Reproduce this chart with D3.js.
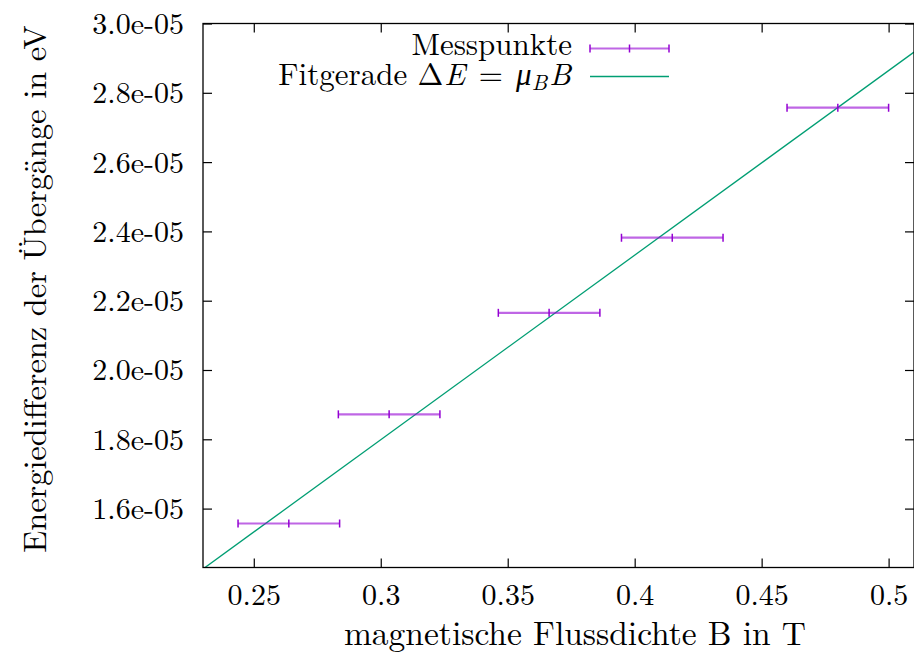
<!DOCTYPE html>
<html>
<head>
<meta charset="utf-8">
<script src="https://cdn.jsdelivr.net/npm/d3@7"></script>
<style>
  body { margin: 0; background: #fff; }
</style>
</head>
<body>
<svg id="chart" width="914" height="658"></svg>
<script>
const fieldB = [0.2638, 0.3033, 0.3663, 0.4148, 0.4800];
const fieldErr = [0.02, 0.02, 0.02, 0.02, 0.02];
const energy = [1.557e-5, 1.872e-5, 2.165e-5, 2.382e-5, 2.757e-5];
const fitParams = [5.327e-5, 2.006e-6]; // slope, intercept
const xTicks = [0.25, 0.3, 0.35, 0.4, 0.45, 0.5];
const yTicks = [1.6e-5, 1.8e-5, 2.0e-5, 2.2e-5, 2.4e-5, 2.6e-5, 2.8e-5, 3.0e-5];

const plotLeft = 203, plotRight = 914, plotTop = 23.5, plotBottom = 567.5;
const purple = "#9400d3", green = "#009e73";
const lm = "'Latin Modern Roman', 'Liberation Serif', serif";

const x = d3.scaleLinear([0.23, 0.51], [plotLeft, plotRight]);
const y = d3.scaleLinear([1.43e-5, 3.0e-5], [plotBottom, plotTop]);

const svg = d3.select("#chart");

svg.append("clipPath").attr("id", "plotclip")
   .append("rect")
   .attr("x", plotLeft).attr("y", plotTop)
   .attr("width", plotRight - plotLeft).attr("height", plotBottom - plotTop);

// axes (gnuplot style: ticks inward, mirrored)
const tickLen = 9;
const xAxis = d3.axisBottom(x).tickValues(xTicks).tickSize(-tickLen)
                .tickFormat(d => d3.format("")(d));
const xAxisTop = d3.axisTop(x).tickValues(xTicks).tickSize(-tickLen).tickFormat("");
const yAxis = d3.axisLeft(y).tickValues(yTicks).tickSize(-tickLen).tickPadding(19)
                .tickFormat(d => d.toExponential(1).replace("e-5", "e-05"));
const yAxisRight = d3.axisRight(y).tickValues(yTicks).tickSize(-tickLen).tickFormat("");

function styleAxis(g) {
  g.select(".domain").remove();
  g.selectAll(".tick line").attr("stroke", "#000").attr("stroke-width", 1.2);
  g.selectAll(".tick text").attr("fill", "#000").attr("font-size", 30)
   .style("font-family", lm);
}

svg.append("g").attr("transform", `translate(0,${plotBottom})`).call(xAxis).call(styleAxis)
   .selectAll(".tick text").attr("dy", "0.71em").attr("y", 16);
svg.append("g").attr("transform", `translate(0,${plotTop})`).call(xAxisTop).call(styleAxis);
svg.append("g").attr("transform", `translate(${plotLeft},0)`).call(yAxis).call(styleAxis)
   .selectAll(".tick text").attr("dy", "0.33em");
svg.append("g").attr("transform", `translate(${plotRight},0)`).call(yAxisRight).call(styleAxis);

// fit line
const fitX = x.domain();
svg.append("line")
   .attr("clip-path", "url(#plotclip)")
   .attr("x1", x(fitX[0])).attr("y1", y(fitParams[0] * fitX[0] + fitParams[1]))
   .attr("x2", x(fitX[1])).attr("y2", y(fitParams[0] * fitX[1] + fitParams[1]))
   .attr("stroke", green).attr("stroke-width", 1.3);

// error bars
const capH = 4;
const pts = svg.append("g").attr("clip-path", "url(#plotclip)")
  .selectAll("g").data(d3.range(fieldB.length)).join("g")
  .attr("stroke", purple).attr("stroke-width", 1.5);
pts.append("line")
   .attr("x1", i => x(fieldB[i] - fieldErr[i])).attr("x2", i => x(fieldB[i] + fieldErr[i]))
   .attr("y1", i => y(energy[i])).attr("y2", i => y(energy[i]))
   .attr("stroke-opacity", 0.6).attr("stroke-width", 2.2);
[i => fieldB[i] - fieldErr[i], i => fieldB[i], i => fieldB[i] + fieldErr[i]].forEach(f => {
  pts.append("line")
     .attr("x1", i => x(f(i))).attr("x2", i => x(f(i)))
     .attr("y1", i => y(energy[i]) - capH).attr("y2", i => y(energy[i]) + capH);
});

// border
svg.append("rect")
   .attr("x", plotLeft).attr("y", plotTop)
   .attr("width", plotRight - plotLeft).attr("height", plotBottom - plotTop)
   .attr("fill", "none").attr("stroke", "#000").attr("stroke-width", 1.3);

// legend
const leg = svg.append("g").attr("font-size", 31).attr("fill", "#000");
leg.append("text").attr("x", 572).attr("y", 55).attr("text-anchor", "end")
   .style("font-family", lm).text("Messpunkte");
const lt = leg.append("text").attr("x", 571).attr("y", 85).attr("text-anchor", "end")
   .style("font-family", lm);
lt.append("tspan").text("Fitgerade Δ");
lt.append("tspan").attr("font-style", "italic").attr("dx", 1).text("E");
lt.append("tspan").attr("dx", 3).text(" = ");
lt.append("tspan").attr("font-style", "italic").attr("dx", 3).text("μ");
lt.append("tspan").attr("font-style", "italic").attr("font-size", 22).attr("dy", 5).text("B");
lt.append("tspan").attr("font-style", "italic").attr("dx", 2).attr("dy", -5).text("B");

const lx1 = 590, lx2 = 669, ly1 = 48.5, ly2 = 76.5;
const legEb = svg.append("g").attr("stroke", purple).attr("stroke-width", 1.5);
legEb.append("line").attr("x1", lx1).attr("x2", lx2).attr("y1", ly1).attr("y2", ly1)
     .attr("stroke-opacity", 0.6).attr("stroke-width", 2.2);
[lx1, (lx1 + lx2) / 2, lx2].forEach(px => {
  legEb.append("line").attr("x1", px).attr("x2", px).attr("y1", ly1 - capH).attr("y2", ly1 + capH);
});
svg.append("line").attr("x1", lx1).attr("x2", lx2).attr("y1", ly2).attr("y2", ly2)
   .attr("stroke", green).attr("stroke-width", 1.3);

// axis labels
svg.append("text")
   .attr("x", 575).attr("y", 645).attr("text-anchor", "middle")
   .attr("font-size", 33.5).style("font-family", lm)
   .text("magnetische Flussdichte B in T");
svg.append("text")
   .attr("transform", "translate(46,289) rotate(-90)").attr("text-anchor", "middle")
   .attr("font-size", 32.3).style("font-family", lm)
   .text("Energiedifferenz der Übergänge in eV");
</script>
</body>
</html>
